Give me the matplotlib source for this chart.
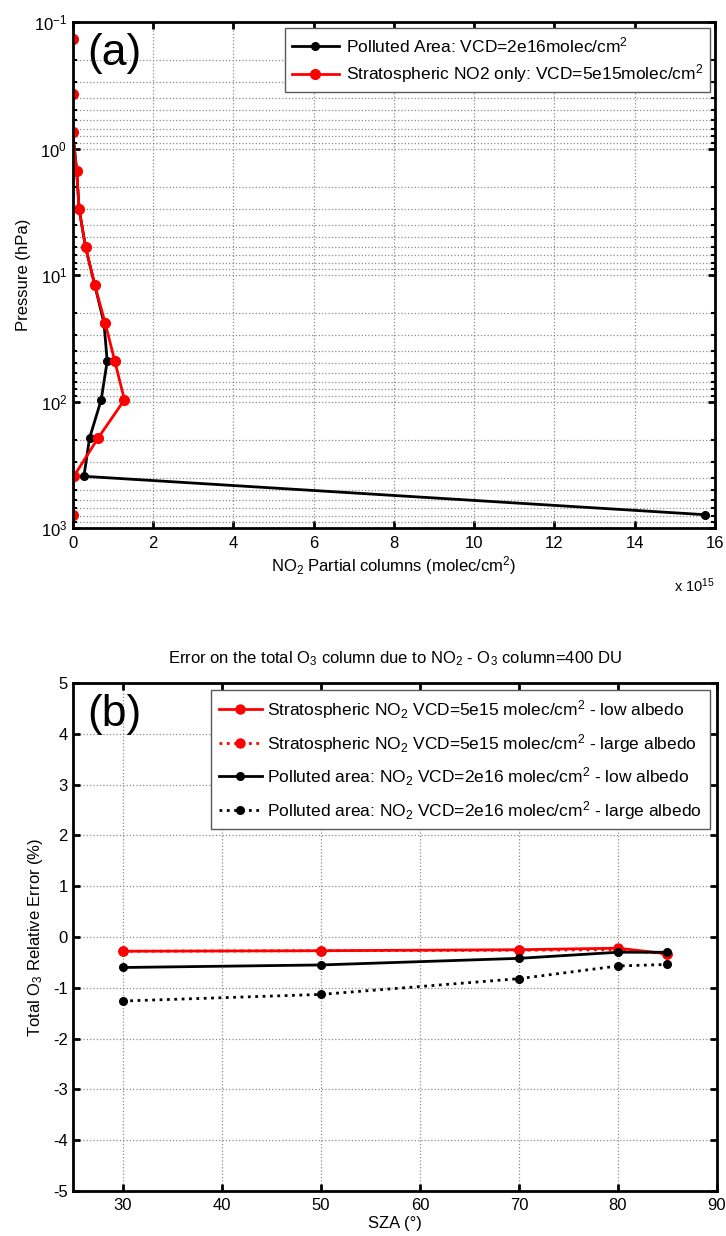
import numpy as np
import matplotlib
matplotlib.use("Agg")
import matplotlib.pyplot as plt
from matplotlib.ticker import LogLocator, MultipleLocator, NullFormatter

plt.rcParams['font.family'] = ['Liberation Sans', 'DejaVu Sans']
plt.rcParams['mathtext.fontset'] = 'custom'
plt.rcParams['mathtext.rm'] = 'Liberation Sans'
plt.rcParams['mathtext.it'] = 'Liberation Sans:italic'
plt.rcParams['mathtext.bf'] = 'Liberation Sans:bold'
plt.rcParams['axes.unicode_minus'] = False

# ---- panel (a): NO2 partial column profiles (units of 1e15 molec/cm2) ----
pressure_hpa = [785, 390, 195, 97, 48, 24, 12, 6, 3, 1.5, 0.74, 0.37, 0.136]
no2_polluted = [15.76, 0.28, 0.42, 0.71, 0.86, 0.78, 0.55, 0.32, 0.16, 0.10, 0.0, 0.0, 0.0]
no2_strato = [0.0, 0.03, 0.63, 1.29, 1.05, 0.81, 0.55, 0.32, 0.16, 0.10, 0.0, 0.0, 0.0]

# ---- panel (b): total O3 relative error vs SZA ----
sza = [30, 50, 70, 80, 85]
err_strato_low = [-0.28, -0.27, -0.25, -0.22, -0.33]
err_strato_high = [-0.28, -0.27, -0.26, -0.25, -0.33]
err_polluted_low = [-0.60, -0.55, -0.42, -0.30, -0.30]
err_polluted_high = [-1.26, -1.13, -0.82, -0.57, -0.54]

FS = 12
LEG_FS = 12.5
RED = '#ff0000'


def style_axes(ax):
    for s in ax.spines.values():
        s.set_linewidth(2)
    ax.tick_params(which='both', direction='in', top=True, right=True,
                   labelsize=FS, width=2, color='black', pad=4)
    ax.tick_params(which='major', length=5)
    ax.tick_params(which='minor', length=3, width=1.5)
    ax.set_axisbelow(True)


fig = plt.figure(figsize=(7.26, 12.36), dpi=100)

# ======================= (a) =======================
ax1 = fig.add_axes([0.1001, 0.5728, 0.8847, 0.4094])
ax1.plot(no2_polluted, pressure_hpa, '-o', color='black', lw=2, ms=5.5,
         label='Polluted Area: VCD=2e16molec/cm$^2$')
ax1.plot(no2_strato, pressure_hpa, '-o', color=RED, lw=2, ms=7,
         label='Stratospheric NO2 only: VCD=5e15molec/cm$^2$')
ax1.set_yscale('log')
ax1.set_ylim(1000, 0.1)
ax1.set_xlim(0, 16)
ax1.xaxis.set_major_locator(MultipleLocator(2))
ax1.yaxis.set_major_locator(LogLocator(base=10, numticks=10))
ax1.yaxis.set_minor_locator(LogLocator(base=10, subs=np.arange(2, 10), numticks=50))
ax1.yaxis.set_minor_formatter(NullFormatter())
style_axes(ax1)
ax1.tick_params(axis='x', pad=6)
ax1.grid(True, which='major', linestyle=':', color='0.55', lw=0.9)
ax1.grid(True, which='minor', axis='y', linestyle=':', color='0.55', lw=0.9)
ax1.set_xlabel('NO$_2$ Partial columns (molec/cm$^2$)', fontsize=FS, labelpad=2)
ax1.set_ylabel('Pressure (hPa)', fontsize=FS, labelpad=2)
ax1.text(1.0, -0.095, 'x 10$^{15}$', transform=ax1.transAxes, ha='right',
         va='top', fontsize=10.5)
ax1.text(0.022, 0.978, '(a)', transform=ax1.transAxes, ha='left', va='top',
         fontsize=32)
leg1 = ax1.legend(loc='upper right', bbox_to_anchor=(0.992, 0.9875),
                  borderaxespad=0, fontsize=LEG_FS, fancybox=False, framealpha=1,
                  edgecolor='0.35', handlelength=2.7, handletextpad=0.4,
                  labelspacing=0.42, borderpad=0.4)
leg1.get_frame().set_linewidth(1.0)

# ======================= (b) =======================
ax2 = fig.add_axes([0.101, 0.0364, 0.8866, 0.411])
ax2.plot(sza, err_strato_low, '-o', color=RED, lw=2, ms=6.5,
         label='Stratospheric NO$_2$ VCD=5e15 molec/cm$^2$ - low albedo')
ax2.plot(sza, err_strato_high, ':o', color=RED, lw=2, ms=6.5,
         label='Stratospheric NO$_2$ VCD=5e15 molec/cm$^2$ - large albedo')
ax2.plot(sza, err_polluted_low, '-o', color='black', lw=2, ms=5.5,
         label='Polluted area: NO$_2$ VCD=2e16 molec/cm$^2$ - low albedo')
ax2.plot(sza, err_polluted_high, ':o', color='black', lw=2, ms=5.5,
         label='Polluted area: NO$_2$ VCD=2e16 molec/cm$^2$ - large albedo')
ax2.set_xlim(25, 90)
ax2.set_ylim(-5, 5)
ax2.xaxis.set_major_locator(MultipleLocator(10))
ax2.yaxis.set_major_locator(MultipleLocator(1))
style_axes(ax2)
ax2.tick_params(axis='x', pad=5)
ax2.grid(True, which='major', linestyle=':', color='0.55', lw=0.9)
ax2.set_xlabel('SZA (°)', fontsize=FS, labelpad=2)
ax2.set_ylabel('Total O$_3$ Relative Error (%)', fontsize=FS, labelpad=6)
ax2.set_title('Error on the total O$_3$ column due to NO$_2$ - O$_3$ column=400 DU',
              fontsize=FS, pad=14)
ax2.text(0.022, 0.978, '(b)', transform=ax2.transAxes, ha='left', va='top',
         fontsize=32)
leg2 = ax2.legend(loc='upper right', bbox_to_anchor=(0.989, 0.986),
                  borderaxespad=0, fontsize=LEG_FS, fancybox=False, framealpha=1,
                  edgecolor='0.35', handlelength=2.5, handletextpad=0.3,
                  labelspacing=0.62, borderpad=0.45)
leg2.get_frame().set_linewidth(1.0)

fig.savefig('out.png', dpi=100)
